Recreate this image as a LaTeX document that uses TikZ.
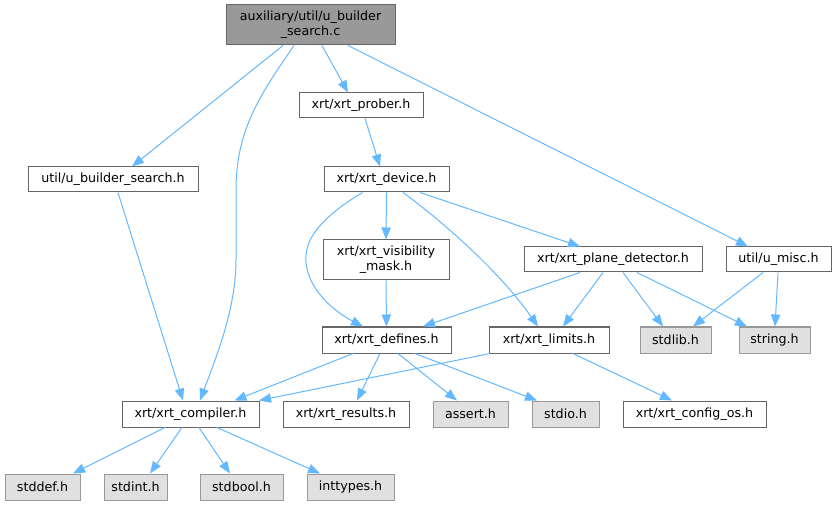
\documentclass[tikz,border=0pt]{standalone}
\usepackage{fontspec}
\setmainfont{DejaVu Sans}
\usetikzlibrary{arrows.meta,calc}
\definecolor{edgec}{HTML}{63B8FF}
\definecolor{bordw}{HTML}{666666}
\definecolor{borde}{HTML}{999999}
\definecolor{rootfill}{HTML}{999999}
\definecolor{extfill}{HTML}{E0E0E0}
\newcommand\dbox[7]{\node[#6, minimum width={(#4-#2)*0.75pt}, minimum height={(#5-#3)*0.75pt}] (#1) at ({(#2+#4)/2},{(#3+#5)/2}) {#7};}
\begin{document}
\begin{tikzpicture}[x=0.75pt,y=-0.75pt,
  every node/.style={font=\fontsize{9.5}{11.25}\selectfont, inner sep=0pt, align=center, line width=0.75pt, text=black},
  hdr/.style={draw=bordw, fill=white},
  rootn/.style={draw=bordw, fill=rootfill},
  ext/.style={draw=borde, fill=extfill},
  dep/.style={draw=edgec, line width=0.75pt, -{Triangle[length=9pt,width=7pt]}}]
\useasboundingbox (0,0) rectangle (837,505);
\dbox{main}{226}{5}{395}{45}{rootn}{auxiliary/util/u\_builder\\\_search.c}
\dbox{prober}{299}{93}{423}{118}{hdr}{xrt/xrt\_prober.h}
\dbox{ubs}{28}{167}{198}{192}{hdr}{util/u\_builder\_search.h}
\dbox{device}{324}{167}{449}{192}{hdr}{xrt/xrt\_device.h}
\dbox{vis}{323}{240}{449}{280}{hdr}{xrt/xrt\_visibility\\\_mask.h}
\dbox{plane}{524}{247}{702}{272}{hdr}{xrt/xrt\_plane\_detector.h}
\dbox{umisc}{726}{247}{831}{272}{hdr}{util/u\_misc.h}
\dbox{defines}{322}{327}{451}{353}{hdr}{xrt/xrt\_defines.h}
\dbox{limits}{489}{327}{609}{353}{hdr}{xrt/xrt\_limits.h}
\dbox{stdlib}{640}{327}{711}{353}{ext}{stdlib.h}
\dbox{string}{739}{327}{810}{353}{ext}{string.h}
\dbox{comp}{122}{401}{259}{427}{hdr}{xrt/xrt\_compiler.h}
\dbox{results}{283}{401}{409}{427}{hdr}{xrt/xrt\_results.h}
\dbox{assert}{433}{401}{508}{427}{ext}{assert.h}
\dbox{stdio}{532}{401}{599}{427}{ext}{stdio.h}
\dbox{config}{623}{401}{766}{427}{hdr}{xrt/xrt\_config\_os.h}
\dbox{stddef}{5}{474}{80}{500}{ext}{stddef.h}
\dbox{stdint}{104}{474}{167}{500}{ext}{stdint.h}
\dbox{stdbool}{200}{474}{283}{500}{ext}{stdbool.h}
\dbox{inttypes}{307}{474}{394}{500}{ext}{inttypes.h}
% edges
\draw[dep] ($(main.south)+(-27.5,0)$) -- ($(ubs.north)+(19,0)$);
\draw[dep] ($(main.south)+(-16.5,0)$) .. controls (260,95) and (236,130) .. (236,190) -- (236,260) .. controls (236,310) and (215,360) .. ($(comp.north)+(9.5,0)$);
\draw[dep] ($(main.south)+(11.5,0)$) -- ($(prober.north)+(-13,0)$);
\draw[dep] ($(main.south)+(37.5,0)$) -- ($(umisc.north)+(-30.5,0)$);
\draw[dep] ($(prober.south)+(4,0)$) -- ($(device.north)+(-6.5,0)$);
\draw[dep] ($(ubs.south)+(5,0)$) -- ($(comp.north)+(-7.5,0)$);
\draw[dep] ($(device.south)+(-24,0)$) .. controls (320,218) and (304,240) .. (306,262) .. controls (308,290) and (335,312) .. ($(defines.north)+(-23.5,0)$);
\draw[dep] (device.south) -- (vis.north);
\draw[dep] (vis.south) -- (defines.north);
\draw[dep] ($(device.south)+(16.5,0)$) .. controls (430,212) and (495,265) .. ($(limits.north)+(-11,0)$);
\draw[dep] ($(device.south)+(33.5,0)$) -- ($(plane.north)+(-33,0)$);
\draw[dep] ($(plane.south)+(-33,0)$) -- ($(defines.north)+(36.5,0)$);
\draw[dep] ($(plane.south)+(-10,0)$) -- ($(limits.north)+(14,0)$);
\draw[dep] ($(plane.south)+(10,0)$) -- ($(stdlib.north)+(-12.5,0)$);
\draw[dep] ($(plane.south)+(24,0)$) -- ($(string.north)+(-27.5,0)$);
\draw[dep] ($(umisc.south)+(-15.5,0)$) -- ($(stdlib.north)+(17.5,0)$);
\draw[dep] ($(umisc.south)+(-0.5,0)$) -- ($(string.north)+(0.5,0)$);
\draw[dep] ($(defines.south)+(-33.5,0)$) -- ($(comp.north)+(44,0)$);
\draw[dep] ($(defines.south)+(-6.5,0)$) -- ($(results.north)+(11,0)$);
\draw[dep] ($(defines.south)+(11.5,0)$) -- ($(assert.north)+(-13.5,0)$);
\draw[dep] ($(defines.south)+(28.5,0)$) -- ($(stdio.north)+(-28.5,0)$);
\draw[dep] ($(limits.south)+(-59,0)$) -- ($(comp.north)+(68.5,0)$);
\draw[dep] ($(limits.south)+(24,0)$) -- ($(config.north)+(-22.5,0)$);
\draw[dep] ($(comp.south)+(-25.5,0)$) -- ($(stddef.north)+(30.5,0)$);
\draw[dep] ($(comp.south)+(-8.5,0)$) -- ($(stdint.north)+(14.5,0)$);
\draw[dep] ($(comp.south)+(8.5,0)$) -- ($(stdbool.north)+(-11.5,0)$);
\draw[dep] ($(comp.south)+(26.5,0)$) -- ($(inttypes.north)+(-30.5,0)$);
\end{tikzpicture}
\end{document}
